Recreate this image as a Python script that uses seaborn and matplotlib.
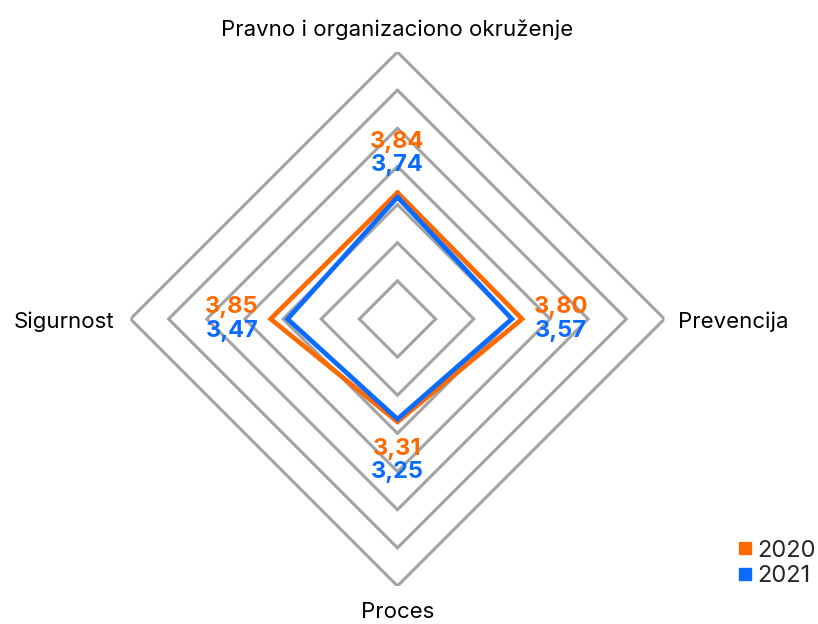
import numpy as np
import pandas as pd
import matplotlib
matplotlib.use("Agg")
import matplotlib.pyplot as plt
import seaborn as sns
from matplotlib.lines import Line2D

# data
categories = ["Pravno i organizaciono okruženje", "Prevencija", "Proces", "Sigurnost"]
years = ["2020", "2021"]
values_2020 = [3.84, 3.80, 3.31, 3.85]
values_2021 = [3.74, 3.57, 3.25, 3.47]
labels_2020 = ["3,84", "3,80", "3,31", "3,85"]
labels_2021 = ["3,74", "3,57", "3,25", "3,47"]
r_min, r_max = 1, 7
ring_levels = np.linspace(r_min, r_max, 8)[1:]

sns.set_theme(style="white")
plt.rcParams["font.family"] = ["Inter", "DejaVu Sans"]

orange = "#FF6A00"
blue = "#0A6CFF"
grey = "#A3A3A3"

angles = np.linspace(0, 2 * np.pi, len(categories), endpoint=False)
closed = np.append(angles, angles[0])

fig = plt.figure(figsize=(8.18, 6.24), dpi=100)
ax = fig.add_axes([0.1595, 0.0609, 0.6528, 0.8558], projection="polar")
ax.set_theta_zero_location("N")
ax.set_theta_direction(-1)
ax.set_ylim(r_min, r_max)
ax.grid(False)
ax.set_xticks([])
ax.set_yticks([])
ax.spines["polar"].set_visible(False)
ax.patch.set_alpha(0)

# diamond grid rings
for lvl in ring_levels:
    ax.plot(closed, [lvl] * len(closed), color=grey, lw=2.2, zorder=1,
            solid_joinstyle="miter")

df = pd.DataFrame({
    "theta": np.concatenate([closed, closed]),
    "value": values_2020 + values_2020[:1] + values_2021 + values_2021[:1],
    "year": ["2020"] * len(closed) + ["2021"] * len(closed),
})
sns.lineplot(data=df, x="theta", y="value", hue="year", palette=[orange, blue],
             sort=False, estimator=None, lw=3.4, ax=ax, legend=False, zorder=3)
for line in ax.lines[-2:]:
    line.set_solid_joinstyle("miter")
ax.set_xlabel("")
ax.set_ylabel("")

# value labels
for th, v20, l20, l21 in zip(angles, values_2020, labels_2020, labels_2021):
    base = v20 + 0.87
    ax.annotate(l20, xy=(th, base), xytext=(0, 8.3), textcoords="offset points",
                ha="center", va="center", color=orange, fontsize=17,
                fontweight="bold")
    ax.annotate(l21, xy=(th, base), xytext=(0, -8.3), textcoords="offset points",
                ha="center", va="center", color=blue, fontsize=17,
                fontweight="bold")

# category labels
offsets = [(0, 16, "center"), (10, -2, "left"), (0, -19, "center"), (-12, -2, "right")]
for th, name, (dx, dy, ha) in zip(angles, categories, offsets):
    ax.annotate(name, xy=(th, r_max), xytext=(dx, dy), textcoords="offset points",
                ha=ha, va="center", color="black", fontsize=16,
                annotation_clip=False)

handles = [Line2D([], [], marker="s", ls="", color=c, markersize=8) for c in (orange, blue)]
fig.legend(handles, years, loc="lower right", bbox_to_anchor=(1.012, 0.04),
           frameon=False, fontsize=17, handletextpad=0.2, labelspacing=0.15,
           handlelength=0.7, borderaxespad=0.1)

fig.savefig("out.png", dpi=100)
